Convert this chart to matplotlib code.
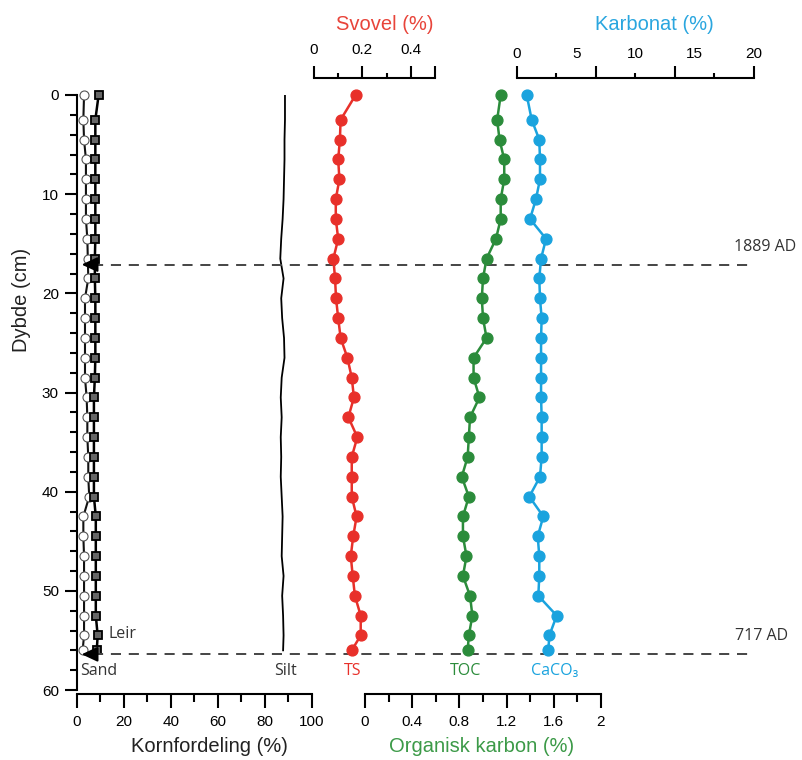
import matplotlib.pyplot as plt
from matplotlib.ticker import MultipleLocator, FixedLocator

plt.rcParams['font.family'] = ['Liberation Sans', 'DejaVu Sans']

# prøvedybder (cm)
depth = [0, 2.5, 4.5, 6.5, 8.5, 10.5, 12.5, 14.5, 16.5, 18.5, 20.5, 22.5, 24.5, 26.5,
         28.5, 30.5, 32.5, 34.5, 36.5, 38.5, 40.5, 42.5, 44.5, 46.5, 48.5, 50.5, 52.5,
         54.5, 56]

# svovel TS (%)
ts = [0.172, 0.110, 0.107, 0.100, 0.105, 0.090, 0.090, 0.100, 0.080, 0.087, 0.091,
      0.100, 0.110, 0.138, 0.156, 0.165, 0.142, 0.179, 0.156, 0.156, 0.156, 0.176,
      0.162, 0.152, 0.160, 0.169, 0.193, 0.193, 0.156]

# organisk karbon TOC (%)
toc = [1.15, 1.12, 1.14, 1.18, 1.18, 1.15, 1.15, 1.11, 1.03, 1.00, 0.99, 1.00, 1.03,
       0.92, 0.92, 0.97, 0.89, 0.88, 0.87, 0.82, 0.88, 0.83, 0.83, 0.86, 0.83, 0.89,
       0.91, 0.88, 0.87]

# karbonat CaCO3 (%)
caco3 = [0.82, 1.24, 1.88, 1.94, 1.94, 1.60, 1.10, 2.45, 2.03, 1.88, 1.94, 2.08, 2.03,
         2.03, 2.03, 2.03, 2.08, 2.08, 2.08, 1.94, 1.04, 2.22, 1.75, 1.88, 1.88, 1.80,
         3.35, 2.73, 2.64]

# kornfordeling (%)
sand = [3.0, 2.7, 3.0, 3.8, 3.8, 3.8, 3.8, 4.4, 4.6, 4.8, 3.4, 3.4, 3.4, 3.4, 3.4,
        4.1, 4.4, 4.4, 4.8, 4.8, 5.2, 2.7, 2.7, 3.0, 3.0, 3.0, 3.0, 3.0, 2.4]
leir = [9.2, 7.8, 7.8, 7.8, 7.8, 7.8, 7.8, 7.8, 7.6, 7.6, 7.8, 7.8, 7.8, 7.8, 7.6,
        7.2, 7.2, 7.2, 7.2, 7.2, 7.2, 8.0, 8.0, 8.0, 8.0, 8.0, 8.0, 8.8, 8.4]
silt = [88.5, 88.5, 88.3, 88.3, 88.1, 87.9, 87.5, 86.9, 86.5, 87.9, 86.9, 87.3, 88.1,
        88.3, 87.1, 86.7, 87.1, 86.7, 86.9, 86.7, 87.1, 87.5, 87.3, 87.1, 87.9, 87.3,
        87.7, 87.9, 87.7]

events = [17.1, 56.4]
event_labels = ['1889 AD', '717 AD']

RED = '#e8302a'
GREEN = '#2b8c3b'
BLUE = '#1aa3de'

W, H = 803, 760
fig = plt.figure(figsize=(W / 100, H / 100), dpi=100)


def box(x0, x1):
    # akse i pikselkoordinater, dybde 0 ved y=95 og 60 ved y=690
    return [x0 / W, (H - 690) / H, (x1 - x0) / W, 595 / H]


def px(x, y):
    return x / W, 1 - y / H


def clean(ax):
    ax.set_ylim(60, 0)
    ax.patch.set_visible(False)
    for s in ['left', 'right', 'top', 'bottom']:
        ax.spines[s].set_visible(False)
    ax.set_yticks([])
    ax.tick_params(width=1.5, which='both', labelsize=11)


# --- kornfordeling ---
ax = fig.add_axes(box(77, 312))
ax.plot(silt, depth, color='black', lw=1.3)
ax.plot(sand, depth, color='#111111', lw=1.5, marker='o', ms=6.5, mfc='white',
        mec='#555555', mew=0.8, clip_on=False)
ax.plot(leir, depth, color='black', lw=1.8, marker='s', ms=6, mfc='#666666',
        mec='black', mew=1.3, clip_on=False)
ax.set_xlim(0, 100)
ax.set_ylim(60, 0)
ax.patch.set_visible(False)
ax.spines['top'].set_visible(False)
ax.spines['right'].set_visible(False)
ax.spines['left'].set_linewidth(1.5)
ax.spines['bottom'].set_linewidth(1.5)
ax.spines['bottom'].set_position(('outward', 3))
ax.xaxis.set_major_locator(MultipleLocator(20))
ax.xaxis.set_minor_locator(MultipleLocator(10))
ax.yaxis.set_major_locator(MultipleLocator(10))
ax.yaxis.set_minor_locator(MultipleLocator(2))
ax.tick_params(axis='x', which='major', length=10, width=1.5, pad=5, labelsize=11)
ax.tick_params(axis='x', which='minor', length=5.5, width=1.5)
ax.tick_params(axis='y', which='major', length=9, width=1.5, pad=4, labelsize=11)
ax.tick_params(axis='y', which='minor', length=5, width=1.5)

for d in events:
    ax.axhline(d, xmin=(93 - 77) / 235, xmax=(750 - 77) / 235, clip_on=False,
               color='#444444', lw=1.4, dashes=(5.2, 4.0))
    ax.annotate('', xy=(0.8, d), xytext=(7.5, d),
                arrowprops=dict(arrowstyle='-|>,head_length=0.6,head_width=0.28',
                                color='black', lw=1.5, mutation_scale=16))

# --- svovel ---
ax_ts = fig.add_axes(box(314, 435))
ax_ts.plot(ts, depth, color=RED, lw=1.8, marker='o', ms=7.8, clip_on=False)
clean(ax_ts)
ax_ts.set_xlim(0, 0.5)
ax_ts.spines['top'].set_visible(True)
ax_ts.spines['top'].set_linewidth(1.5)
ax_ts.spines['top'].set_position(('outward', 12))
ax_ts.xaxis.tick_top()
ax_ts.xaxis.set_major_locator(FixedLocator([0, 0.2, 0.4, 0.5]))
ax_ts.xaxis.set_minor_locator(FixedLocator([0.1, 0.3]))
ax_ts.set_xticklabels(['0', '0.2', '0.4', ''])
ax_ts.tick_params(axis='x', which='major', length=9, pad=6)
ax_ts.tick_params(axis='x', which='minor', length=3.5)

# --- organisk karbon ---
ax_toc = fig.add_axes(box(365, 601))
ax_toc.plot(toc, depth, color=GREEN, lw=1.8, marker='o', ms=7.8, clip_on=False)
clean(ax_toc)
ax_toc.set_xlim(0, 2)
ax_toc.spines['bottom'].set_visible(True)
ax_toc.spines['bottom'].set_linewidth(1.5)
ax_toc.spines['bottom'].set_position(('outward', 3))
ax_toc.xaxis.set_major_locator(FixedLocator([0, 0.4, 0.8, 1.2, 1.6, 2]))
ax_toc.xaxis.set_minor_locator(FixedLocator([0.2, 0.6, 1.0, 1.4, 1.8]))
ax_toc.set_xticklabels(['0', '0.4', '0.8', '1.2', '1.6', '2'])
ax_toc.tick_params(axis='x', which='major', length=10, pad=5)
ax_toc.tick_params(axis='x', which='minor', length=5.5)

# --- karbonat ---
ax_ca = fig.add_axes(box(517, 754))
ax_ca.plot(caco3, depth, color=BLUE, lw=1.8, marker='o', ms=7.8, clip_on=False)
clean(ax_ca)
ax_ca.set_xlim(0, 20)
ax_ca.spines['top'].set_visible(True)
ax_ca.spines['top'].set_linewidth(1.5)
ax_ca.spines['top'].set_position(('outward', 12))
ax_ca.xaxis.tick_top()
ax_ca.xaxis.set_major_locator(FixedLocator([0, 20 / 3, 40 / 3, 20]))
ax_ca.xaxis.set_minor_locator(FixedLocator([10 / 3, 10, 50 / 3]))
ax_ca.set_xticklabels([])
ax_ca.tick_params(axis='x', which='major', length=9)
ax_ca.tick_params(axis='x', which='minor', length=3.5)
sec = ax_ca.secondary_xaxis(1 + 12 / 595)
sec.set_xticks([0, 5, 10, 15, 20])
sec.set_xticklabels(['0', '5', '10', '15', '20'])
sec.tick_params(length=0, pad=15.5, labelsize=11)
sec.spines['top'].set_visible(False)

# --- titler og etiketter ---
fig.text(*px(385, 25), 'Svovel (%)', color='#e8443a', fontsize=14.5, ha='center', va='center')
fig.text(*px(654, 25), 'Karbonat (%)', color='#2aa6df', fontsize=14.5, ha='center', va='center')
fig.text(*px(209, 746), 'Kornfordeling (%)', color='#222222', fontsize=14.5, ha='center', va='center')
fig.text(*px(482, 746), 'Organisk karbon (%)', color='#3c9a48', fontsize=14.5, ha='center', va='center')
fig.text(*px(22, 300), 'Dybde (cm)', color='#222222', fontsize=14.5, rotation=90,
         ha='center', va='center')

lab = dict(family=['Open Sans', 'DejaVu Sans'], fontsize=11.5, va='center')
fig.text(*px(80, 671), 'Sand', color='#333333', ha='left', **lab)
fig.text(*px(286, 671), 'Silt', color='#333333', ha='center', **lab)
fig.text(*px(108, 634), 'Leir', color='#333333', ha='left', **lab)
fig.text(*px(353, 671), 'TS', color=RED, ha='center', **lab)
fig.text(*px(466, 671), 'TOC', color=GREEN, ha='center', **lab)
fig.text(*px(555, 671), 'CaCO₃', color=BLUE, ha='center', **lab)
fig.text(*px(765, 247), event_labels[0], color='#333333', ha='center', **lab)
fig.text(*px(762, 636), event_labels[1], color='#333333', ha='center', **lab)

fig.savefig('out.png', dpi=100)
